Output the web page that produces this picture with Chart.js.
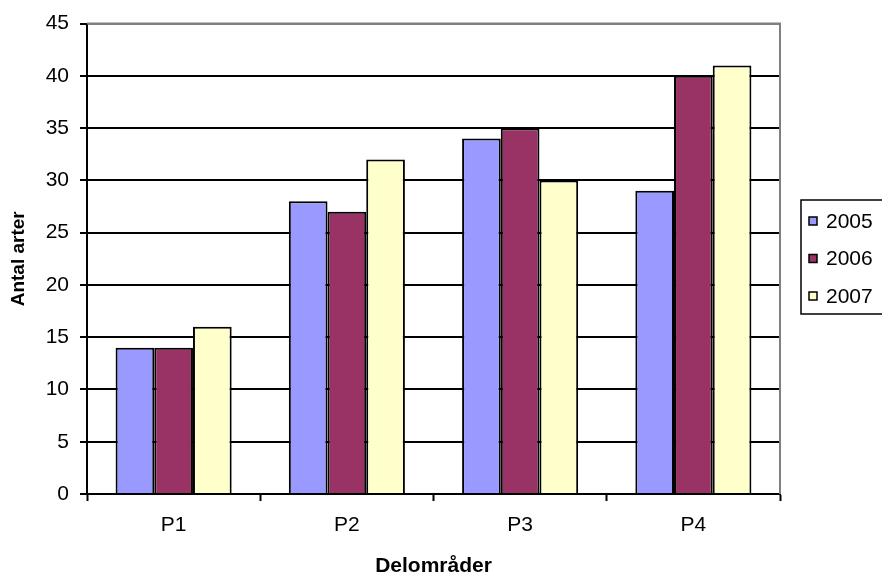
<!DOCTYPE html>
<html>
<head>
<meta charset="utf-8">
<script src="https://cdn.jsdelivr.net/npm/chart.js@4/dist/chart.umd.min.js"></script>
<style>
  html, body { margin: 0; padding: 0; background: #ffffff; }
  #wrap { width: 882px; height: 579px; }
</style>
</head>
<body>
<div id="wrap"><canvas id="c" width="882" height="579"></canvas></div>
<script>
// Number of species per sub-area and year
const categories = ['P1', 'P2', 'P3', 'P4'];
const seriesNames = ['2005', '2006', '2007'];
const values2005 = [14, 28, 34, 29];
const values2006 = [14, 27, 35, 40];
const values2007 = [16, 32, 30, 41];
const seriesColors = ['#9999FF', '#993366', '#FFFFCC'];
const yMin = 0, yMax = 45, yStep = 5;

const FONT = 'Arial, "Liberation Sans", sans-serif';

// Grey frame on the top and right side of the plot area
const frame = {
  id: 'frame',
  afterDraw(chart) {
    const { ctx, chartArea: a } = chart;
    ctx.save();
    ctx.strokeStyle = '#808080';
    ctx.lineWidth = 2;
    ctx.beginPath();
    ctx.moveTo(a.left, a.top);
    ctx.lineTo(a.right, a.top);
    ctx.lineTo(a.right, a.bottom);
    ctx.stroke();
    ctx.restore();
  }
};

// Boxed legend on the right
const boxLegend = {
  id: 'boxLegend',
  afterDraw(chart) {
    const { ctx } = chart;
    const x0 = 801, y0 = 200, w = 90, h = 114;
    ctx.save();
    ctx.strokeStyle = '#000';
    ctx.lineWidth = 1.5;
    ctx.strokeRect(x0, y0, w, h);
    ctx.font = '21px ' + FONT;
    ctx.textBaseline = 'middle';
    ctx.textAlign = 'left';
    chart.data.datasets.forEach((ds, i) => {
      const cy = 221 + i * 37.5;
      ctx.fillStyle = ds.backgroundColor;
      ctx.fillRect(809, cy - 4, 8, 8);
      ctx.lineWidth = 1.5;
      ctx.strokeRect(809, cy - 4, 8, 8);
      ctx.fillStyle = '#000';
      ctx.fillText(ds.label, 826, cy + 1);
    });
    ctx.restore();
  }
};

const allValues = [values2005, values2006, values2007];

new Chart(document.getElementById('c'), {
  type: 'bar',
  data: {
    labels: categories,
    datasets: seriesNames.map((name, i) => ({
      label: name,
      data: allValues[i],
      backgroundColor: seriesColors[i],
      borderColor: '#000',
      borderWidth: 2,
      categoryPercentage: 0.67,
      barPercentage: 1.0
    }))
  },
  options: {
    responsive: false,
    animation: false,
    layout: { padding: { top: 23, right: 102, left: 0, bottom: 0 } },
    plugins: {
      legend: { display: false },
      tooltip: { enabled: false }
    },
    scales: {
      x: {
        afterFit(scale) { scale.height = 85; },
        grid: {
          drawOnChartArea: false,
          drawTicks: true,
          tickLength: 7,
          tickColor: '#000',
          tickWidth: 2,
          offset: true
        },
        border: { color: '#000', width: 2 },
        ticks: {
          color: '#000',
          font: { family: FONT, size: 21 },
          padding: 12
        },
        title: {
          display: true,
          text: 'Delområder',
          color: '#000',
          font: { family: FONT, size: 21, weight: 'bold' },
          padding: { top: 0, bottom: 0 }
        }
      },
      y: {
        min: yMin,
        max: yMax,
        afterFit(scale) { scale.width = 87; },
        ticks: {
          stepSize: yStep,
          color: '#000',
          font: { family: FONT, size: 21 },
          padding: 11
        },
        grid: {
          color: (c) => (c.tick && c.tick.value === yMax) ? '#808080' : '#000',
          lineWidth: 2,
          tickLength: 7,
          tickColor: '#000',
          tickWidth: 2
        },
        border: { color: '#000', width: 2 },
        title: {
          display: true,
          text: 'Antal arter',
          color: '#000',
          font: { family: FONT, size: 19, weight: 'bold' },
          padding: { top: 7, bottom: 0 }
        }
      }
    }
  },
  plugins: [frame, boxLegend]
});
</script>
</body>
</html>
